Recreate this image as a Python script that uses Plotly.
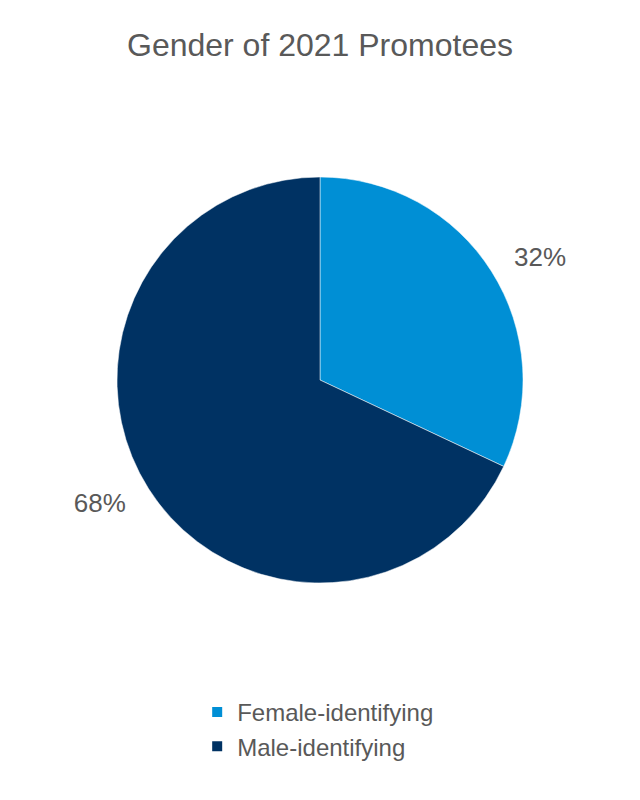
import plotly.graph_objects as go

categories = ["Female-identifying", "Male-identifying"]
values = [32, 68]
colors = ["#008FD5", "#003263"]

FONT = "Liberation Sans, Arial"
GRAY = "#595959"

# transparent, slightly larger copy of the pie that only carries the outside labels
label_pie = go.Pie(
    labels=categories,
    values=values,
    marker=dict(colors=["rgba(0,0,0,0)"] * len(values), line=dict(width=0)),
    sort=False,
    direction="clockwise",
    rotation=0,
    textinfo="percent",
    texttemplate="%{percent:.0%}",
    textposition="outside",
    outsidetextfont=dict(size=26, color=GRAY, family=FONT),
    domain=dict(x=[0, 1], y=[0.24875, 0.80125]),
    showlegend=False,
    hoverinfo="skip",
)

main_pie = go.Pie(
    labels=categories,
    values=values,
    marker=dict(colors=colors, line=dict(color="white", width=0.5)),
    sort=False,
    direction="clockwise",
    rotation=0,
    textinfo="none",
    domain=dict(x=[0, 1], y=[0.27125, 0.77875]),
    hoverinfo="label+percent",
)

fig = go.Figure([label_pie, main_pie])

fig.update_layout(
    width=640, height=800,
    margin=dict(l=0, r=0, t=0, b=0),
    paper_bgcolor="white",
    font=dict(family=FONT, color=GRAY),
    title=dict(text="Gender of 2021 Promotees", x=0.5, xanchor="center",
               y=1 - 45 / 800, yanchor="middle",
               font=dict(size=32, color=GRAY)),
    legend=dict(x=170 / 640, xanchor="left", y=1 - 690 / 800, yanchor="top",
                font=dict(size=24, color=GRAY), itemsizing="constant"),
)

fig.write_html("out.html",
               config={"displayModeBar": False},
               post_script="document.body.style.margin='0';document.body.style.overflow='hidden';")
